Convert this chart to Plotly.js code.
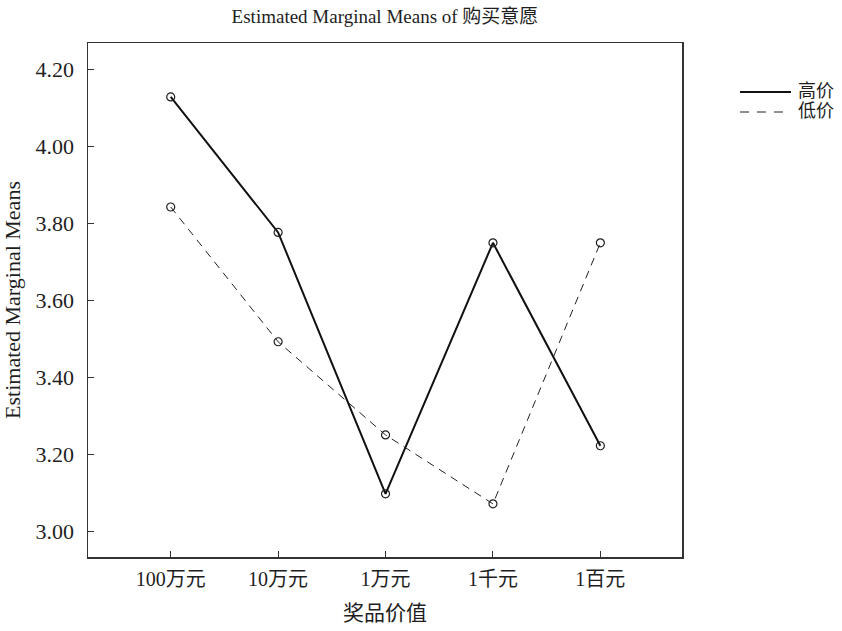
<!DOCTYPE html>
<html>
<head>
<meta charset="utf-8">
<script src="https://cdn.plot.ly/plotly-3.0.1.min.js"></script>
<style>
  html, body { margin: 0; padding: 0; background: #fff; }
  #chart { width: 842px; height: 631px; }
</style>
</head>
<body>
<div id="chart"></div>
<script>
// Prize value levels (x categories)
var prizeLevels = ['100万元', '10万元', '1万元', '1千元', '1百元'];
// Estimated marginal means of purchase intention per price group
var seriesNames = ['高价', '低价'];
var highPrice = [4.128, 3.776, 3.097, 3.749, 3.222];
var lowPrice  = [3.842, 3.492, 3.250, 3.071, 3.749];
var yTicks = [3.00, 3.20, 3.40, 3.60, 3.80, 4.00, 4.20];

var serif = '"Liberation Serif", "Times New Roman", "Noto Sans CJK SC", serif';
var ink = '#1e1e1e';
var xIdx = prizeLevels.map(function (_, i) { return i; });

var marker = { symbol: 'circle-open', size: 8, color: ink, line: { width: 1.2, color: ink } };

var traces = [
  {
    x: xIdx, y: highPrice, name: seriesNames[0], type: 'scatter', mode: 'lines',
    line: { color: '#111', width: 2 }, showlegend: false, hoverinfo: 'skip'
  },
  {
    x: xIdx, y: lowPrice, name: seriesNames[1], type: 'scatter', mode: 'lines',
    line: { color: '#222', width: 1, dash: '8px,6px' }, showlegend: false, hoverinfo: 'skip'
  },
  { x: xIdx, y: highPrice, type: 'scatter', mode: 'markers', marker: marker, showlegend: false },
  { x: xIdx, y: lowPrice, type: 'scatter', mode: 'markers', marker: marker, showlegend: false }
];

// Legend drawn to the right of the plot frame
var L = 88, R = 682, T = 43, B = 557;
function px2x(p) { return (p - L) / (R - L); }
function px2y(p) { return (B - p) / (B - T); }

var shapes = [
  { type: 'line', xref: 'paper', yref: 'paper', x0: px2x(740), x1: px2x(791), y0: px2y(92), y1: px2y(92),
    line: { color: '#111', width: 2 } },
  { type: 'line', xref: 'paper', yref: 'paper', x0: px2x(740), x1: px2x(791), y0: px2y(112), y1: px2y(112),
    line: { color: '#222', width: 1, dash: '9px,8px' } }
];
var annotations = [
  { xref: 'paper', yref: 'paper', x: px2x(796), y: px2y(91), xanchor: 'left', yanchor: 'middle',
    text: seriesNames[0], showarrow: false, font: { family: serif, size: 18, color: ink } },
  { xref: 'paper', yref: 'paper', x: px2x(796), y: px2y(111), xanchor: 'left', yanchor: 'middle',
    text: seriesNames[1], showarrow: false, font: { family: serif, size: 18, color: ink } }
];

var layout = {
  width: 842, height: 631,
  margin: { l: L, r: 842 - R, t: T, b: 631 - B, pad: 0 },
  paper_bgcolor: '#fff', plot_bgcolor: '#fff',
  showlegend: false,
  font: { family: serif, size: 18, color: ink },
  title: {
    text: 'Estimated Marginal Means of 购买意愿',
    font: { family: serif, size: 19, color: ink },
    x: (L + R) / 2 / 842, xanchor: 'center', y: 1 - 16 / 631, yanchor: 'middle'
  },
  xaxis: {
    range: [-0.77, 4.76],
    tickmode: 'array', tickvals: xIdx, ticktext: prizeLevels,
    ticks: 'inside', ticklen: 6, tickwidth: 1, tickcolor: '#333',
    ticklabelstandoff: 3,
    showgrid: false, zeroline: false,
    showline: true, linecolor: '#333', linewidth: 1.5, mirror: true,
    tickfont: { family: serif, size: 20, color: ink },
    title: { text: '奖品价值', font: { family: serif, size: 21, color: ink }, standoff: 17 }
  },
  yaxis: {
    range: [2.933, 4.268],
    tickmode: 'array', tickvals: yTicks, ticktext: yTicks.map(function (v) { return v.toFixed(2); }),
    ticks: 'inside', ticklen: 6, tickwidth: 1, tickcolor: '#333',
    ticklabelstandoff: 8,
    showgrid: false, zeroline: false,
    showline: true, linecolor: '#333', linewidth: 1.5, mirror: true,
    tickfont: { family: serif, size: 22, color: ink },
    title: { text: 'Estimated Marginal Means', font: { family: serif, size: 22, color: ink }, standoff: 9 }
  },
  shapes: shapes,
  annotations: annotations
};

Plotly.newPlot('chart', traces, layout, { displayModeBar: false, staticPlot: true });
</script>
</body>
</html>
